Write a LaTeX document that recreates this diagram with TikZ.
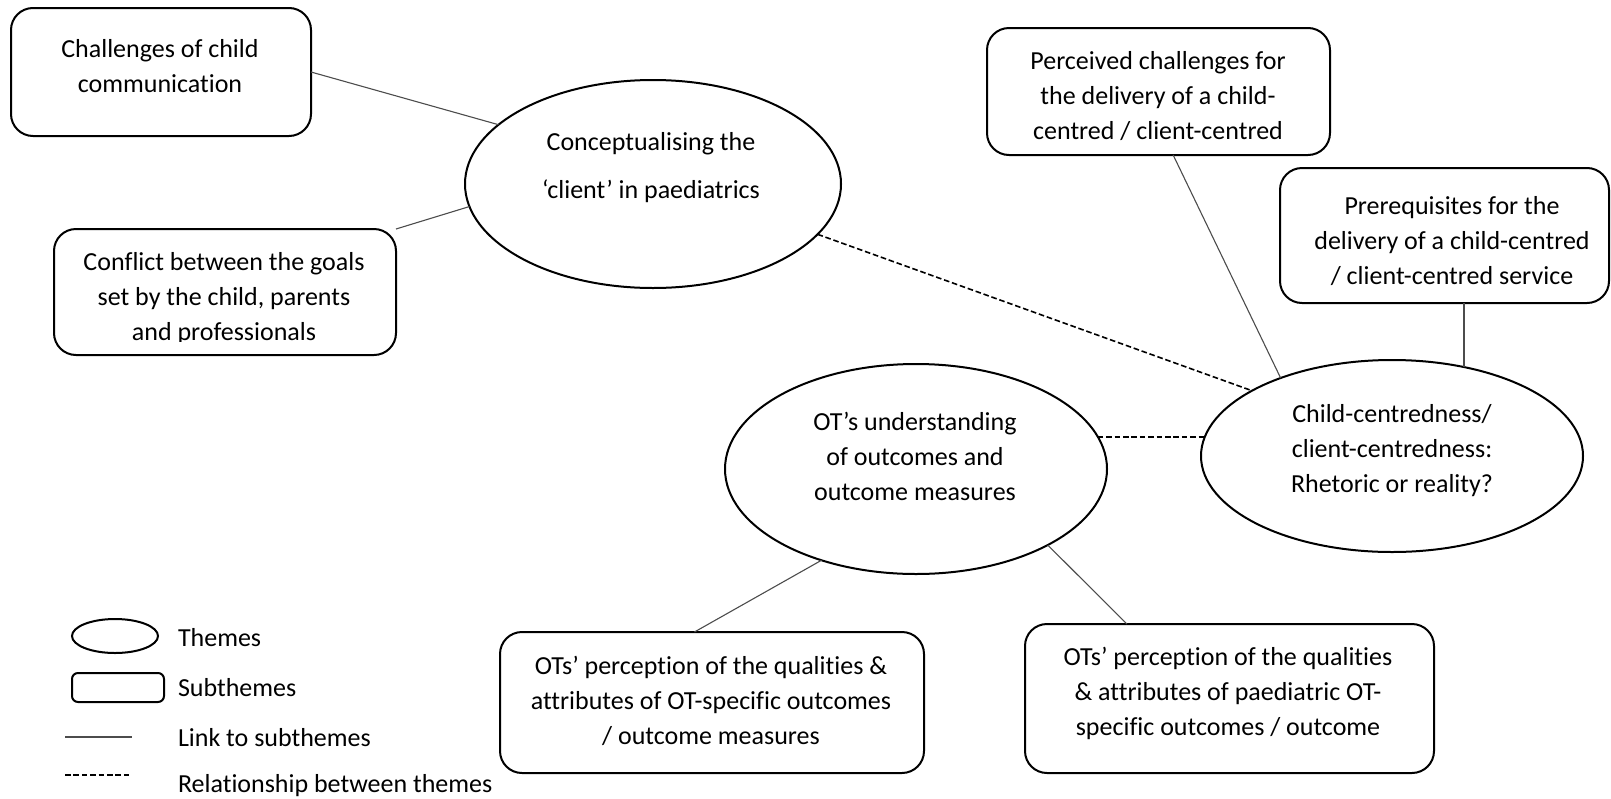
\documentclass[tikz,border=0pt]{standalone}
\usepackage{fontspec}
\setmainfont{Carlito}[Ligatures=NoCommon]
\usetikzlibrary{shapes.geometric,calc}
\begin{document}
\begin{tikzpicture}[x=0.5pt,y=-0.5pt,
  every node/.style={inner sep=0pt, outer sep=0pt},
  theme/.style={draw, line width=1pt, ellipse},
  subtheme/.style={draw, line width=1pt, rectangle, rounded corners=11pt},
  keybox/.style={draw, line width=1pt, rectangle, rounded corners=3pt},
  txt/.style={align=center, font=\fontsize{13}{17.5}\selectfont,
    execute at begin node=\strut, execute at end node=\strut},
  widetxt/.style={txt, font=\fontsize{13}{24}\selectfont},
  keytxt/.style={txt, anchor=west},
  link/.style={line width=0.55pt, black!70},
  relation/.style={line width=0.8pt, dash pattern=on 2.8pt off 1.4pt},
]
\useasboundingbox (0,0) rectangle (1611,798);

% themes
\node[theme, minimum width=188pt, minimum height=104pt] (concept) at (653,184) {};
\node[theme, minimum width=191pt, minimum height=105pt] (otund) at (916,469) {};
\node[theme, minimum width=191pt, minimum height=96pt] (child) at (1392,456) {};

% subthemes
\node[subtheme, minimum width=150pt, minimum height=64pt] (chal) at (161,72) {};
\node[subtheme, minimum width=171pt, minimum height=63pt] (conf) at (225,292) {};
\node[subtheme, minimum width=171.5pt, minimum height=63.5pt] (perc) at (1158.5,91.5) {};
\node[subtheme, minimum width=164.5pt, minimum height=67.5pt] (prereq) at (1444.5,235.5) {};
\node[subtheme, minimum width=212pt, minimum height=70.5pt] (otsl) at (712,702.5) {};
\node[subtheme, minimum width=204.5pt, minimum height=74.5pt] (otsr) at (1229.5,698.5) {};

% labels
\node[widetxt] (concept-t) at (651,173) {Conceptualising the\\‘client’ in paediatrics};
\node[txt] (otund-t) at (915,462) {OT’s understanding\\of outcomes and\\outcome measures};
\node[txt] (child-t) at (1392,454) {Child-centredness/\\client-centredness:\\Rhetoric or reality?};
\node[txt] (chal-t) at (160,71) {Challenges of child\\communication};
\begin{scope}
  \clip (54,229) rectangle (396,341);
  \node[txt] (conf-t) at (224,302) {Conflict between the goals\\set by the child, parents\\and professionals};
\end{scope}
\node[txt] (perc-t) at (1158,101) {Perceived challenges for\\the delivery of a child-\\centred / client-centred};
\node[txt] (prereq-t) at (1452,246) {Prerequisites for the\\delivery of a child-centred\\/ client-centred service};
\node[txt] (otsl-t) at (711,706) {OTs’ perception of the qualities \&\\attributes of OT-specific outcomes\\/ outcome measures};
\node[txt] (otsr-t) at (1228,696.5) {OTs’ perception of the qualities\\\& attributes of paediatric OT-\\specific outcomes / outcome};

% links to subthemes
\draw[link] (chal.east) -- (concept.159);
\draw[link] (conf.north east) -- (concept.187);
\draw[link] (perc.-77) -- (child.145);
\draw[link] (prereq.south -| child.51) -- (child.51);
\draw[link] (otund.224) -- (otsl.104);
\draw[link] (otund.-30) -- (otsr.144);

% relationships between themes
\draw[relation] (concept.-17) -- (child.155);
\draw[relation] (otund.10.6) -- (otund.10.6 -| child.173.6);

% key
\node[theme, minimum width=43pt, minimum height=17pt] (key-theme) at (115,636) {};
\node[keybox, minimum width=46pt, minimum height=14.5pt] (key-sub) at (118,687.5) {};
\coordinate (key-l1) at (65,737);
\coordinate (key-l2) at (132,737);
\coordinate (key-r1) at (65,775);
\coordinate (key-r2) at (132,775);
\draw[link] (key-l1) -- (key-l2);
\draw[relation] (key-r1) -- (key-r2);
\node[keytxt] (key-theme-t) at (178,639.5) {Themes};
\node[keytxt] (key-sub-t) at (178,689.5) {Subthemes};
\node[keytxt] (key-link-t) at (178,739) {Link to subthemes};
\node[keytxt] (key-rel-t) at (178,785) {Relationship between themes};
\end{tikzpicture}
\end{document}
